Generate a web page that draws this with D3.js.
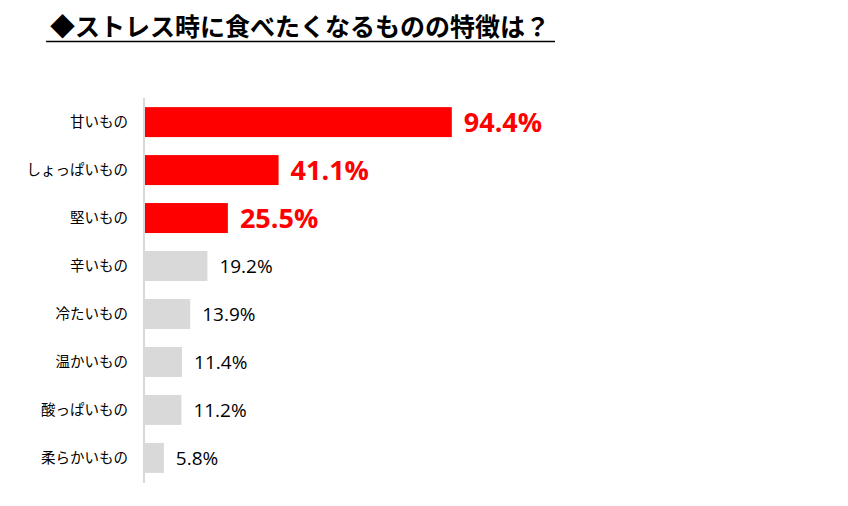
<!DOCTYPE html>
<html>
<head>
<meta charset="utf-8">
<script src="https://cdn.jsdelivr.net/npm/d3@7"></script>
<style>
  body { margin: 0; background: #fff; }
  svg { font-family: "Noto Sans CJK JP", "Noto Sans", sans-serif; }
</style>
</head>
<body>
<div id="chart"></div>
<script>
// data
let categories = ["甘いもの", "しょっぱいもの", "堅いもの", "辛いもの", "冷たいもの", "温かいもの", "酸っぱいもの", "柔らかいもの"];
let values = [94.4, 41.1, 25.5, 19.2, 13.9, 11.4, 11.2, 5.8];
let highlight = [true, true, true, false, false, false, false, false];
let title = "◆ストレス時に食べたくなるものの特徴は？";

let width = 848;
let height = 506;
let margin = ({top: 98, right: 0, bottom: 24, left: 145});

let svg = d3.select("#chart")
  .append("svg")
  .attr("width", width).attr("height", height);

// title with underline
svg.append("text")
  .attr("x", 50)
  .attr("y", 36)
  .style("font-size", "25px")
  .style("font-weight", "bold")
  .attr("fill", "#000")
  .text(title);

svg.append("line")
  .attr("x1", 46).attr("x2", 555)
  .attr("y1", 41.5).attr("y2", 41.5)
  .attr("stroke", "#000")
  .attr("stroke-width", 1.3);

let rows = categories.map((c, i) => ({name: c, value: values[i], hi: highlight[i]}));

let xScale = d3.scaleLinear()
  .domain([0, 100])
  .range([margin.left, margin.left + 325]);

let yScale = d3.scaleBand()
  .domain(categories)
  .range([margin.top, height - margin.bottom])
  .paddingInner(0.375)
  .paddingOuter(0.19);

// bars
svg.append("g")
  .selectAll("rect")
  .data(rows).enter()
  .append("rect")
  .attr("x", xScale(0))
  .attr("y", d => yScale(d.name))
  .attr("width", d => xScale(d.value) - xScale(0))
  .attr("height", yScale.bandwidth())
  .attr("fill", d => d.hi ? "#ff0000" : "#d9d9d9");

// value labels
svg.append("g")
  .selectAll("text")
  .data(rows).enter()
  .append("text")
  .attr("x", d => xScale(d.value) + 12)
  .attr("y", d => yScale(d.name) + yScale.bandwidth() / 2)
  .attr("dy", "0.36em")
  .style("font-family", "'Open Sans', 'Noto Sans', sans-serif")
  .style("font-size", d => d.hi ? "27px" : "19px")
  .style("font-weight", d => d.hi ? "bold" : "normal")
  .attr("fill", d => d.hi ? "#ff0000" : "#000")
  .text(d => d.value.toFixed(1) + "%");

// category axis
let yAxis = g => g
  .attr("transform", `translate(${margin.left},0)`)
  .call(d3.axisLeft(yScale).tickSize(0).tickPadding(17))
  .call(g => g.select(".domain")
    .attr("d", `M-1,${margin.top}V${height - margin.bottom + 1}`)
    .attr("stroke", "#d9d9d9")
    .attr("stroke-width", 2))
  .call(g => g.selectAll("text")
    .style("font-family", "'Noto Sans CJK JP', sans-serif")
    .style("font-size", "14.5px")
    .attr("fill", "#000"));

svg.append("g").attr("id", "y_axis").call(yAxis);
</script>
</body>
</html>
